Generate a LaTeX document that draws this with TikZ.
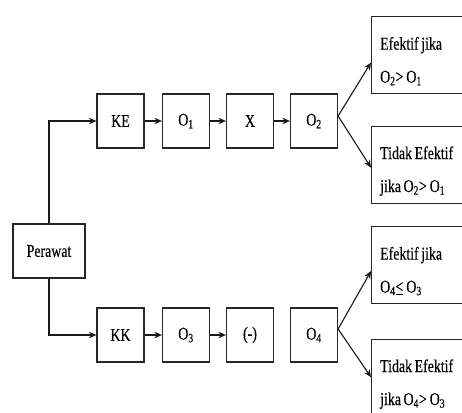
\documentclass[tikz,border=0pt]{standalone}
\usepackage{fontspec}
\setmainfont[FakeStretch=0.77,FakeBold=0.4,WordSpace=0.75]{Liberation Serif}
\usetikzlibrary{arrows.meta}
\begin{document}
\begin{tikzpicture}[x=1pt,y=-1pt,
  font=\fontsize{18}{33}\selectfont,
  box/.style={draw=black!85,line width=1.2pt,inner sep=0pt},
  small/.style={box,minimum width=47pt,minimum height=54pt},
  res/.style={box,anchor=north west,minimum height=77pt,minimum width=100pt},
  restext/.style={anchor=west,align=left,inner sep=0pt},
  arr/.style={line width=1.1pt,draw=black!90,-{Stealth[length=7.5pt,width=6.5pt]}},
  ln/.style={line width=1.1pt,draw=black!90}]
\useasboundingbox (0,0) rectangle (462,412);
\clip (0,0) rectangle (462,412);
\fill[white] (0,0) rectangle (462,412);
% left
\node[box,minimum width=72pt,minimum height=54pt] (per) at (49,251) {Perawat};
% top row
\node[small] (ke) at (120.5,121) {KE};
\node[small] (o1) at (186,121) {O\textsubscript{1}};
\node[small] (x) at (250,121) {X};
\node[small] (o2) at (314,121) {O\textsubscript{2}};
% bottom row
\node[small] (kk) at (120.5,335) {KK};
\node[small] (o3) at (186,335) {O\textsubscript{3}};
\node[small] (nx) at (250,335) {(-)};
\node[small] (o4) at (314,335) {O\textsubscript{4}};
% result boxes
\node[res] (e1) at (371,16) {};
\node[res] (e2) at (371,126) {};
\node[res] (e3) at (371,226) {};
\node[res] (e4) at (371,339) {};
\node[restext] (e1t) at ([xshift=9pt,yshift=-6pt]e1.west) {Efektif jika\\O\textsubscript{2}>\,O\textsubscript{1}};
\node[restext] (e2t) at ([xshift=9pt,yshift=-6pt]e2.west) {Tidak Efektif\\jika O\textsubscript{2}>\,O\textsubscript{1}};
\node[restext] (e3t) at ([xshift=9pt,yshift=-6pt]e3.west) {Efektif jika\\O\textsubscript{4}\underline{<}\,O\textsubscript{3}};
\node[restext] (e4t) at ([xshift=9pt,yshift=-6pt]e4.west) {Tidak Efektif\\jika O\textsubscript{4}>\,O\textsubscript{3}};
% connectors
\draw[arr] (per.north) |- (ke.west);
\draw[arr] (per.south) |- (kk.west);
\draw[arr] (ke) -- (o1);
\draw[arr] (o1) -- (x);
\draw[arr] (x) -- (o2);
\draw[arr] (kk) -- (o3);
\draw[arr] (o3) -- (nx);
\coordinate (s2) at ([yshift=5pt]o2.east);
\coordinate (s4) at ([yshift=6pt]o4.east);
\draw[arr] (s2) -- ([yshift=-7.5pt]e1.west);
\draw[arr] (s2) -- ([yshift=-2.5pt]e2.west);
\draw[arr] (s4) -- ([yshift=-6pt]e3.west);
\draw[arr] (s4) -- ([yshift=1pt]e4.west);
\end{tikzpicture}
\end{document}
